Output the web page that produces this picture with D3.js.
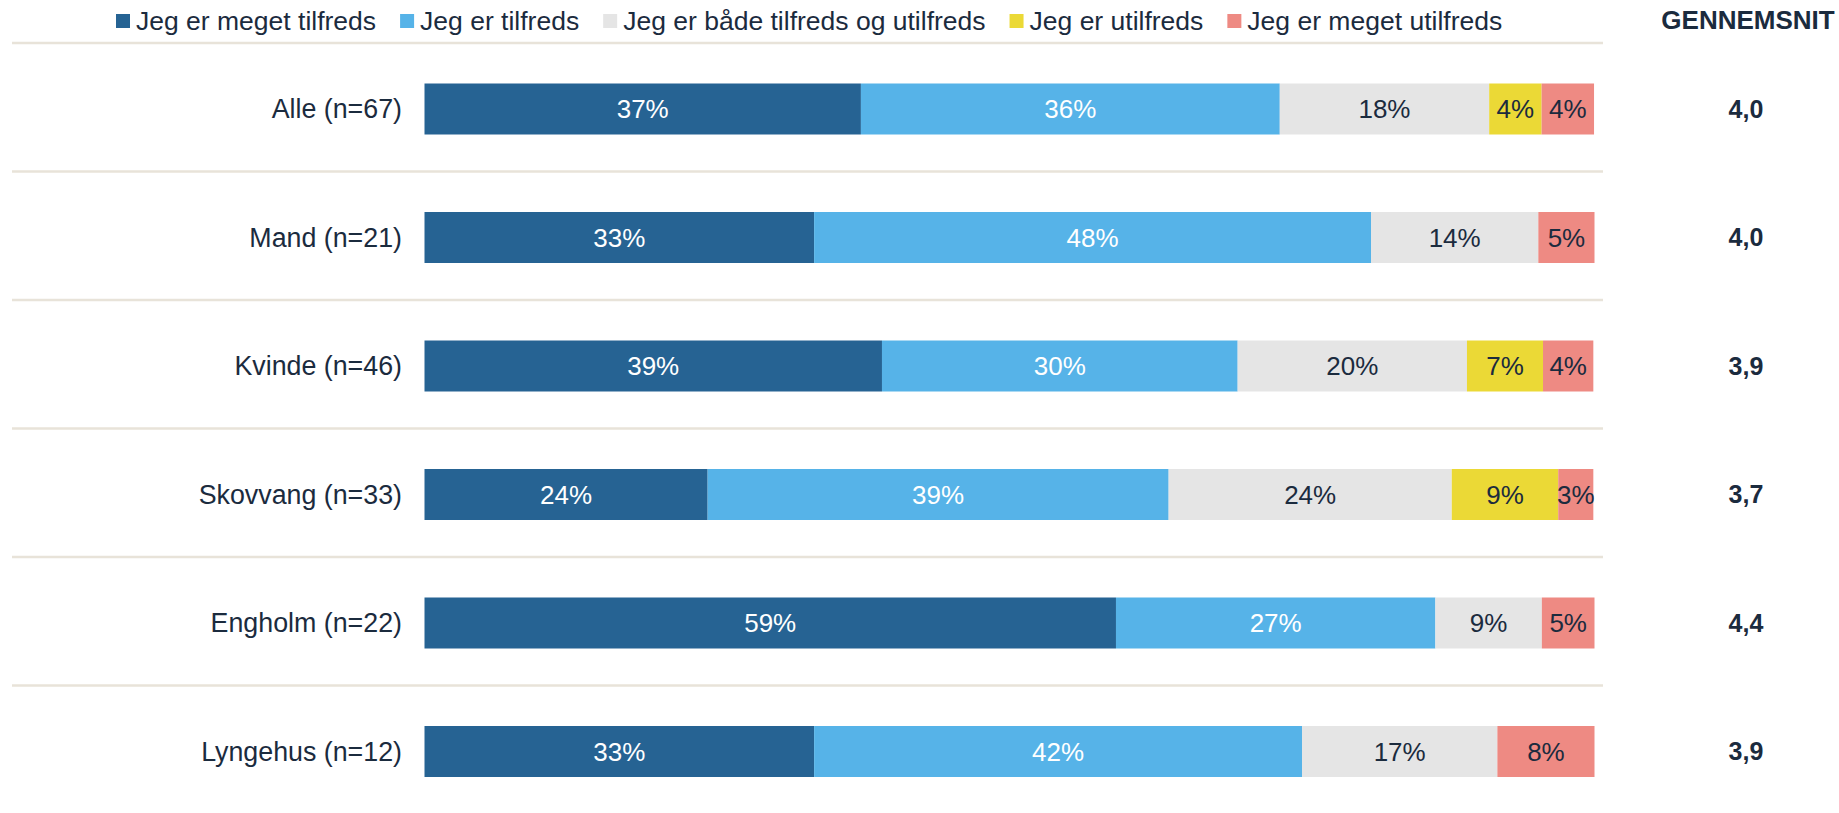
<!DOCTYPE html>
<html>
<head>
<meta charset="utf-8">
<script src="https://cdn.jsdelivr.net/npm/d3@7"></script>
<style>
  html, body { margin: 0; padding: 0; background: #fff; }
  svg { display: block; font-family: 'Liberation Sans', Arial, sans-serif; }
</style>
</head>
<body>
<svg id="chart" width="1839" height="813"></svg>
<script>
const categories = ['Alle (n=67)', 'Mand (n=21)', 'Kvinde (n=46)', 'Skovvang (n=33)', 'Engholm (n=22)', 'Lyngehus (n=12)']
const seriesNames = ['Jeg er meget tilfreds', 'Jeg er tilfreds', 'Jeg er både tilfreds og utilfreds', 'Jeg er utilfreds', 'Jeg er meget utilfreds']
const meget = [37.3, 33.3, 39.1, 24.2, 59.1, 33.3]
const tilfreds = [35.8, 47.6, 30.4, 39.4, 27.3, 41.7]
const baade = [17.9, 14.3, 19.6, 24.2, 9.1, 16.7]
const utilfreds = [4.48, 0, 6.5, 9.1, 0, 0]
const megetUtilfreds = [4.48, 4.8, 4.3, 3.0, 4.5, 8.3]
const averages = ['4,0', '4,0', '3,9', '3,7', '4,4', '3,9']

const colors = ['#266393', '#56b3e8', '#e5e5e5', '#ebd936', '#ee8a83']
const labelColors = ['#ffffff', '#ffffff', '#1b2b3e', '#1b2b3e', '#1b2b3e']
const textColor = '#1b2b3e'
const series = [meget, tilfreds, baade, utilfreds, megetUtilfreds]

const svg = d3.select('#chart')

const x = d3.scaleLinear().domain([0, 100]).range([424.5, 1594.5])
const y = d3.scaleBand().domain(categories).range([43, 814]).padding(0)
const barH = 51
const rowCenter = c => y(c) + 66

// stacked data
const rows = categories.map((c, i) => {
  const obj = { cat: c }
  seriesNames.forEach((s, j) => { obj[s] = series[j][i] })
  return obj
})
const stacked = d3.stack().keys(seriesNames)(rows)

// separators
svg.append('g')
  .selectAll('line')
  .data(categories)
  .enter()
  .append('line')
  .attr('x1', 12)
  .attr('x2', 1603)
  .attr('y1', d => y(d))
  .attr('y2', d => y(d))
  .attr('stroke', '#e8e3d9')
  .attr('stroke-width', 2.5)

// bars
const layers = svg.append('g')
  .selectAll('g')
  .data(stacked)
  .enter()
  .append('g')
  .attr('fill', (d, i) => colors[i])

layers.selectAll('rect')
  .data(d => d)
  .enter()
  .append('rect')
  .attr('x', d => x(d[0]))
  .attr('width', d => x(d[1]) - x(d[0]))
  .attr('y', d => rowCenter(d.data.cat) - barH / 2)
  .attr('height', barH)

// value labels
stacked.forEach((layer, i) => {
  svg.append('g')
    .selectAll('text')
    .data(layer.filter(d => d[1] - d[0] > 0))
    .enter()
    .append('text')
    .attr('x', d => x((d[0] + d[1]) / 2))
    .attr('y', d => rowCenter(d.data.cat))
    .attr('dy', '0.35em')
    .attr('text-anchor', 'middle')
    .attr('font-size', 26)
    .attr('fill', labelColors[i])
    .text(d => Math.round(d[1] - d[0]) + '%')
})

// category labels
svg.append('g')
  .selectAll('text')
  .data(categories)
  .enter()
  .append('text')
  .attr('x', 402)
  .attr('y', d => rowCenter(d))
  .attr('dy', '0.35em')
  .attr('text-anchor', 'end')
  .attr('font-size', 26.8)
  .attr('fill', textColor)
  .text(d => d)

// averages
svg.append('text')
  .attr('x', 1748)
  .attr('y', 20)
  .attr('dy', '0.35em')
  .attr('text-anchor', 'middle')
  .attr('font-size', 26)
  .attr('font-weight', 'bold')
  .attr('fill', textColor)
  .text('GENNEMSNIT')

svg.append('g')
  .selectAll('text')
  .data(categories)
  .enter()
  .append('text')
  .attr('x', 1746)
  .attr('y', d => rowCenter(d))
  .attr('dy', '0.35em')
  .attr('text-anchor', 'middle')
  .attr('font-size', 25)
  .attr('font-weight', 'bold')
  .attr('fill', textColor)
  .text((d, i) => averages[i])

// legend
const legend = svg.append('g')
let lx = 116
seriesNames.forEach((name, i) => {
  legend.append('rect')
    .attr('x', lx)
    .attr('y', 14)
    .attr('width', 14)
    .attr('height', 14)
    .attr('fill', colors[i])
  const t = legend.append('text')
    .attr('x', lx + 20)
    .attr('y', 21)
    .attr('dy', '0.35em')
    .attr('font-size', 26.5)
    .attr('fill', textColor)
    .text(name)
  lx += 20 + t.node().getComputedTextLength() + 24
})
</script>
</body>
</html>
